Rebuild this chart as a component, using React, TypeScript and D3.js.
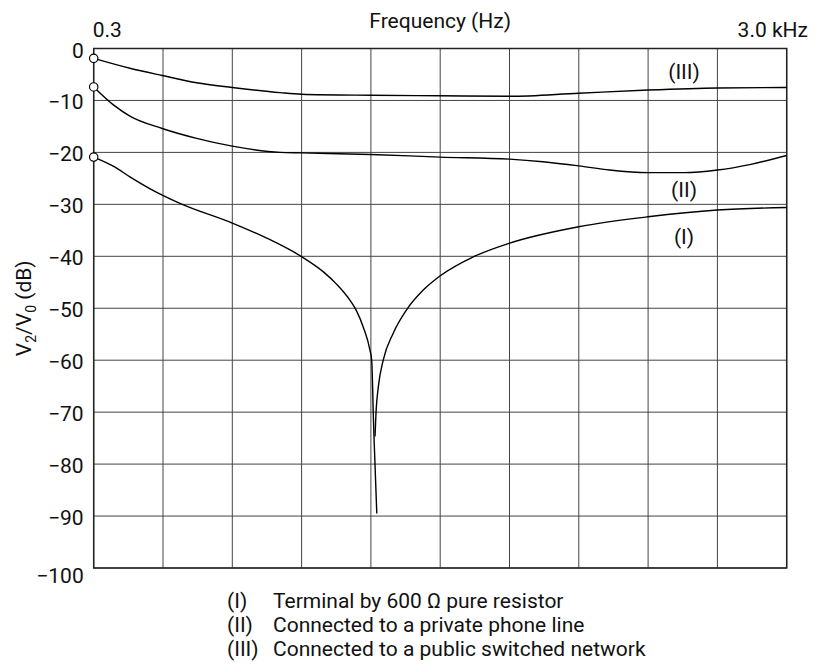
import * as d3 from 'd3';

// frequency (kHz) vs attenuation (dB)
const gridFreqs = [0.3, 0.57, 0.84, 1.11, 1.38, 1.65, 1.92, 2.19, 2.46, 2.73, 3.0];
const dbTicks = [0, -10, -20, -30, -40, -50, -60, -70, -80, -90, -100];

const curveIII: [number, number][] = [
  [0.3, -1.9], [0.441, -3.8], [0.567, -5.2], [0.701, -6.6], [0.84, -7.5], [1.026, -8.5],
  [1.11, -8.8], [1.38, -9.0], [1.65, -9.1], [1.92, -9.2], [2.19, -8.6], [2.46, -8.0],
  [2.73, -7.6], [3.0, -7.5],
];

const curveII: [number, number][] = [
  [0.3, -7.4], [0.378, -10.9], [0.441, -13.0], [0.567, -15.4], [0.701, -17.3], [0.84, -18.8],
  [1.026, -20.0], [1.11, -20.1], [1.38, -20.4], [1.65, -20.9], [1.92, -21.3], [2.05, -21.8],
  [2.19, -22.6], [2.31, -23.4], [2.46, -23.9], [2.6, -23.9], [2.73, -23.4], [2.86, -22.3],
  [3.0, -20.6],
];

// curve (I) dips to a sharp notch near 1.4 kHz, drawn as two branches
const curveILeft: [number, number][] = [
  [0.3, -20.9], [0.378, -22.7], [0.441, -24.7], [0.52, -27.0], [0.636, -29.8], [0.84, -33.6],
  [0.974, -36.5], [1.111, -40.1], [1.195, -43.0], [1.247, -45.4], [1.299, -48.5], [1.325, -50.6],
  [1.35, -53.6], [1.376, -58.0], [1.383, -60.0], [1.387, -65.7], [1.389, -70.0], [1.392, -74.7],
  [1.403, -89.5],
];

const curveIRight: [number, number][] = [
  [1.396, -74.7], [1.4, -70.0], [1.409, -65.1], [1.428, -60.0], [1.467, -54.8], [1.519, -50.3],
  [1.584, -46.5], [1.649, -43.8], [1.779, -40.1], [1.918, -37.5], [2.19, -34.3], [2.46, -32.4],
  [2.73, -31.1], [3.0, -30.6],
];

const curveLabels = [
  { text: '(III)', freq: 2.6, db: -4.4 },
  { text: '(II)', freq: 2.6, db: -27.2 },
  { text: '(I)', freq: 2.6, db: -36.3 },
];

const legendItems = [
  { key: '(I)', text: 'Terminal by 600 Ω pure resistor' },
  { key: '(II)', text: 'Connected to a private phone line' },
  { key: '(III)', text: 'Connected to a public switched network' },
];

const W = 814;
const H = 672;
const margin = { top: 48.5, right: 27.3, bottom: 104, left: 93.7 };
const FONT = 'Roboto, "Liberation Sans", sans-serif';

export default function App() {
  const x = d3.scaleLinear().domain([0.3, 3.0]).range([margin.left, W - margin.right]);
  const y = d3.scaleLinear().domain([0, -100]).range([margin.top, H - margin.bottom]);

  const line = d3
    .line<[number, number]>()
    .x((d) => x(d[0]))
    .y((d) => y(d[1]))
    .curve(d3.curveMonotoneX);

  const series = [curveIII, curveII, curveILeft, curveIRight];
  const starts = [curveIII[0], curveII[0], curveILeft[0]];
  const fmt = (v: number) => (v < 0 ? '\u2212' + Math.abs(v) : String(v));

  return (
    <div style={{ position: 'absolute', left: 0, top: 0 }}>
      <svg width={W} height={H} style={{ display: 'block', background: '#fff' }} fontFamily={FONT}>
        {/* grid */}
        <g stroke="#444" strokeWidth={1}>
          {gridFreqs.map((f) => (
            <line key={'v' + f} x1={x(f)} x2={x(f)} y1={y(0)} y2={y(-100)} />
          ))}
          {dbTicks.map((d) => (
            <line key={'h' + d} x1={x(0.3)} x2={x(3.0)} y1={y(d)} y2={y(d)} />
          ))}
        </g>
        <rect
          x={x(0.3)}
          y={y(0)}
          width={x(3.0) - x(0.3)}
          height={y(-100) - y(0)}
          fill="none"
          stroke="#222"
          strokeWidth={1.5}
        />

        {/* curves */}
        <g fill="none" stroke="#000" strokeWidth={1.4}>
          {series.map((s, i) => (
            <path key={i} d={line(s) ?? ''} />
          ))}
        </g>
        {starts.map((p, i) => (
          <circle key={i} cx={x(p[0])} cy={y(p[1])} r={4.2} fill="#fff" stroke="#000" strokeWidth={1.2} />
        ))}

        {/* y tick labels */}
        <g fontSize={21} textAnchor="end" fill="#111">
          {dbTicks.map((d) => (
            <text key={d} x={x(0.3) - 10} y={y(d) + (d === -100 ? 15 : 9)}>
              {fmt(d)}
            </text>
          ))}
        </g>

        {/* x annotations */}
        <text x={x(0.3) - 1} y={36.5} fontSize={21} fill="#111">0.3</text>
        <text x={808} y={37} fontSize={21} textAnchor="end" fill="#111">3.0 kHz</text>
        <text x={(x(0.3) + x(3.0)) / 2} y={28} fontSize={21} textAnchor="middle" fill="#111">
          Frequency (Hz)
        </text>

        {/* y title */}
        <text
          transform={`translate(31, ${(y(0) + y(-100)) / 2}) rotate(-90)`}
          fontSize={21}
          textAnchor="middle"
          fill="#111"
        >
          V<tspan fontSize={14} dy={5}>2</tspan>
          <tspan dy={-5}>/V</tspan>
          <tspan fontSize={14} dy={5}>0</tspan>
          <tspan dy={-5}> (dB)</tspan>
        </text>

        {/* curve labels */}
        <g fontSize={21} textAnchor="middle" fill="#111">
          {curveLabels.map((l) => (
            <text key={l.text} x={x(l.freq)} y={y(l.db)} dy="0.35em">
              {l.text}
            </text>
          ))}
        </g>

        {/* legend */}
        <g fontSize={21} fill="#111">
          {legendItems.map((l, i) => (
            <g key={l.key}>
              <text x={227} y={608 + i * 24}>{l.key}</text>
              <text x={273} y={608 + i * 24}>{l.text}</text>
            </g>
          ))}
        </g>
      </svg>
    </div>
  );
}
